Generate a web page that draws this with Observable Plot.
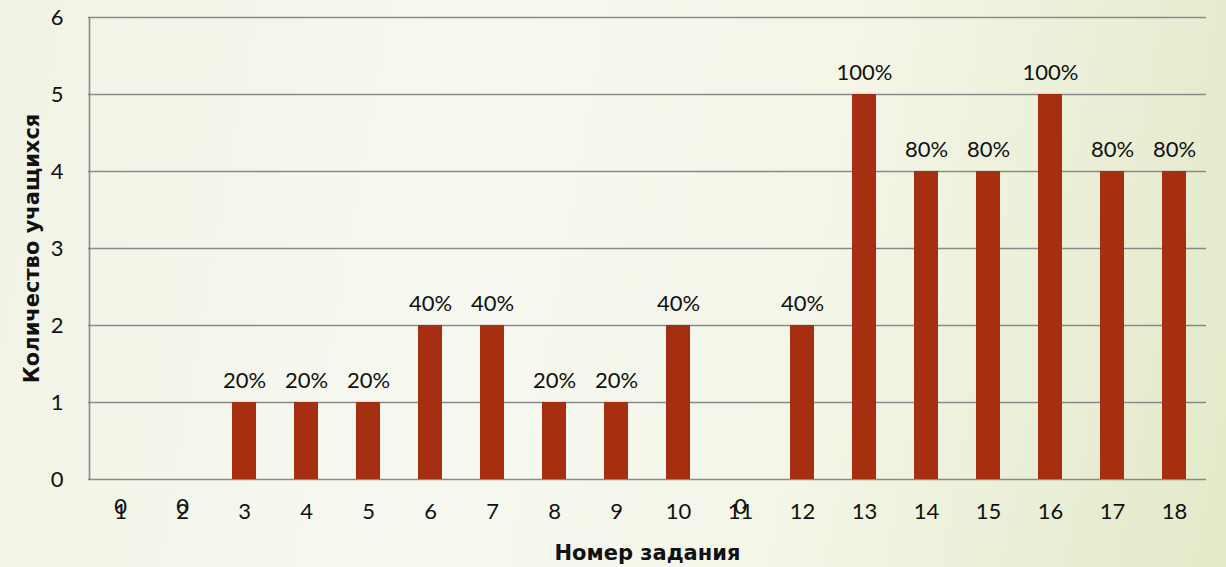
<!DOCTYPE html>
<html><head><meta charset="utf-8">
<script src="https://cdn.jsdelivr.net/npm/d3@7"></script>
<script src="https://cdn.jsdelivr.net/npm/@observablehq/plot@0.6"></script>
<style>
html,body{margin:0;padding:0;width:1226px;height:567px;overflow:hidden;
background:linear-gradient(100deg,#f0f3e4 0%,#f7f8f0 35%,#f4f6e8 65%,#e3e9c8 100%);}
#chart{position:absolute;left:0;top:0;}
</style></head><body><div id="chart"></div>
<script>
const tasks = ["1","2","3","4","5","6","7","8","9","10","11","12","13","14","15","16","17","18"];
const counts = [0,0,1,1,1,2,2,1,1,2,0,2,5,4,4,5,4,4];
const labels = ["0","0","20%","20%","20%","40%","40%","20%","20%","40%","0","40%","100%","80%","80%","100%","80%","80%"];
const yTicks = [0,1,2,3,4,5,6];

const data = tasks.map((t,i)=>({task:t,count:counts[i],label:labels[i]}));
const font = "Lato, 'Open Sans', sans-serif";
const titleFont = "'DejaVu Sans', sans-serif";
const chart = Plot.plot({
  width:1226, height:567,
  marginLeft:88, marginRight:20, marginTop:17, marginBottom:88,
  style:{background:"transparent", fontFamily:font, fontSize:"22px", color:"#111"},
  x:{domain:tasks, paddingInner:0.61, paddingOuter:0.305, label:null, tickSize:0, tickPadding:24},
  y:{domain:[0,6], ticks:yTicks, tickFormat:"d", label:null, tickSize:0, tickPadding:25},
  marks:[
    Plot.gridY(yTicks,{stroke:"#8a8a8a", strokeWidth:1.6, strokeOpacity:1}),
    Plot.ruleX([0],{x:()=>tasks[0], dx:-31, y1:0, y2:6, stroke:"#8a8a8a", strokeWidth:1.6}),
    Plot.barY(data,{x:"task", y:"count", fill:"#a62f12"}),
    Plot.text(data.filter(d=>d.count>0),{x:"task", y:"count", text:"label", dy:-22, fontSize:22, fill:"#111"}),
    Plot.text(data.filter(d=>d.count===0),{x:"task", y:"count", text:"label", dy:27, fontSize:22, fill:"#111"}),
    Plot.text(["Номер задания"],{frameAnchor:"bottom", dy:80, fontSize:21, fontWeight:"bold", fontFamily:titleFont, fill:"#111", letterSpacing:"4px"}),
    Plot.text(["Количество учащихся"],{frameAnchor:"left", textAnchor:"middle", dx:-56, rotate:-90, fontSize:21, fontWeight:"bold", fontFamily:titleFont, fill:"#111", letterSpacing:"3.6px"})
  ]
});
document.getElementById("chart").append(chart);
</script></body></html>
